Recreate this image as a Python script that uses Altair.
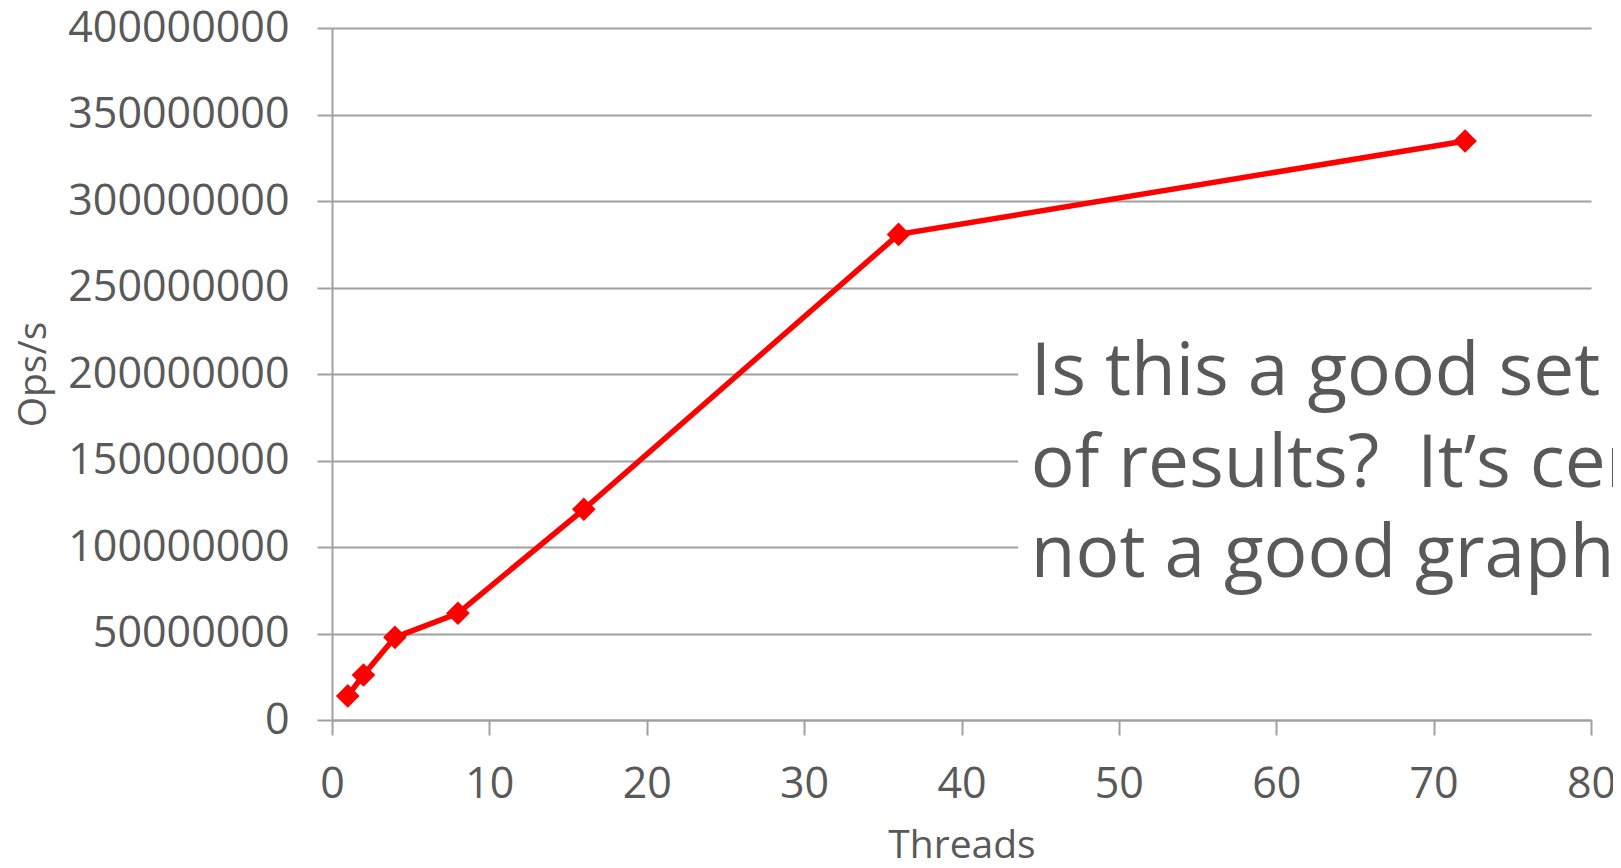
import altair as alt
import pandas as pd

threads = [1, 2, 4, 8, 16, 36, 72]
ops = [13900000, 26000000, 47800000, 61700000, 121800000, 280700000, 334700000]

x_ticks = [0, 10, 20, 30, 40, 50, 60, 70, 80]
y_ticks = [0, 50000000, 100000000, 150000000, 200000000, 250000000, 300000000, 350000000, 400000000]

note_lines = ["Is this a good set", "of results?\u00a0 It\u2019s certainly", "not a good graph!"]
note_x = [44.4, 44.4, 44.4]
note_y = [187900000, 134700000, 82700000]
box_x = [43.6]
box_x2 = [82.0]
box_y = [225000000]
box_y2 = [64000000]

GRAY = "#a0a0a0"
TXT = "#595959"
FONT = "Open Sans"

df = pd.DataFrame({"Threads": threads, "Ops": ops})
notes = pd.DataFrame({"x": note_x, "y": note_y, "t": note_lines})
box = pd.DataFrame({"x": box_x, "x2": box_x2, "y": box_y, "y2": box_y2})

xs = alt.Scale(domain=[0, 80], nice=False, zero=False)
ys = alt.Scale(domain=[0, 400000000], nice=False)

xaxis = alt.Axis(values=x_ticks, title="Threads", grid=False, labelFlush=False,
                 labelOverlap=False, titlePadding=20, titleFontSize=39)
yaxis = alt.Axis(values=y_ticks, title="Ops/s", grid=True, format="d",
                 labelOverlap=False, titleX=-279, titleY=346, titleAngle=270,
                 titleBaseline="bottom", titleAlign="center", titleFontSize=39)

line = alt.Chart(df).mark_line(color="#ff0000", strokeWidth=5.5).encode(
    x=alt.X("Threads:Q", scale=xs, axis=xaxis),
    y=alt.Y("Ops:Q", scale=ys, axis=yaxis),
)
pts = alt.Chart(df).mark_point(shape="diamond", filled=True, size=560,
                               color="#ff0000", opacity=1).encode(
    x=alt.X("Threads:Q", scale=xs),
    y=alt.Y("Ops:Q", scale=ys),
)
rect = alt.Chart(box).mark_rect(color="white", opacity=1).encode(
    x=alt.X("x:Q", scale=xs),
    x2="x2:Q",
    y=alt.Y("y:Q", scale=ys),
    y2="y2:Q",
)
txt = alt.Chart(notes).mark_text(align="left", baseline="alphabetic", fontSize=73,
                                 font=FONT, color=TXT).encode(
    x=alt.X("x:Q", scale=xs),
    y=alt.Y("y:Q", scale=ys),
    text="t:N",
)

chart = alt.layer(rect, line, pts, txt).properties(
    width=1259, height=692,
    autosize=alt.AutoSizeParams(type="none"),
    padding={"left": 324, "top": 20, "right": 22, "bottom": 140},
).configure_view(stroke=None).configure_axis(
    labelFont=FONT, titleFont=FONT,
    labelFontSize=43, labelColor=TXT, labelPadding=28, labelLimit=0,
    tickSize=15, tickColor=GRAY, tickWidth=2,
    domainColor=GRAY, domainWidth=2,
    gridColor=GRAY, gridWidth=2,
    titleColor=TXT, titleFontWeight="normal",
)

chart.save("out.html", embed_options={"renderer": "svg", "actions": False})
